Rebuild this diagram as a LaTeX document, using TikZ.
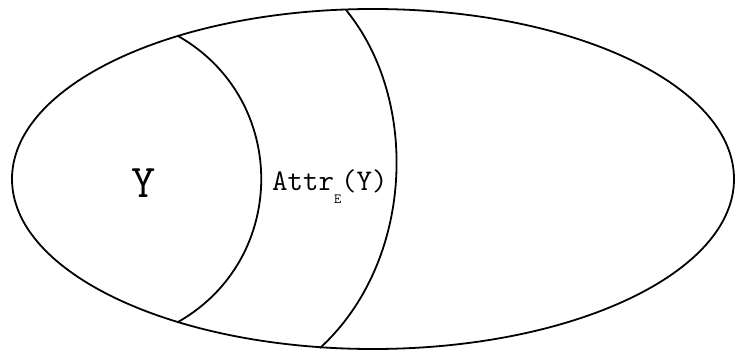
\documentclass[tikz,border=0pt]{standalone}
\usetikzlibrary{positioning,calc}

\tikzset{
  setline/.style={line width=1.8pt},
  biglabel/.style={font=\ttfamily\fontsize{47}{47}\selectfont,inner sep=0pt},
  attrlabel/.style={font=\ttfamily\fontsize{30}{30}\selectfont,inner sep=0pt,anchor=base west}
}

\begin{document}
\begin{tikzpicture}[x=1pt,y=-1pt]
\useasboundingbox (0,0) rectangle (735,350);

% outer set
\draw[setline] (373,179) ellipse [x radius=361, y radius=170];

% border of Y
\coordinate (Ytop) at (178,36);
\coordinate (Ybot) at (178,322);
\draw[setline] (Ytop) .. controls (289,99) and (289,259) .. (Ybot);

% border of the attractor
\coordinate (Atop) at (346,10);
\coordinate (Abot) at (320,348);
\draw[setline] (Atop) .. controls (420,100) and (414,262) .. (Abot);

\node[biglabel] (Y) at (144,183) {Y};
\node[attrlabel] (attr) at (272,190) {Attr\raisebox{-13pt}{\fontsize{14}{14}\selectfont E}(Y)};
\end{tikzpicture}
\end{document}
